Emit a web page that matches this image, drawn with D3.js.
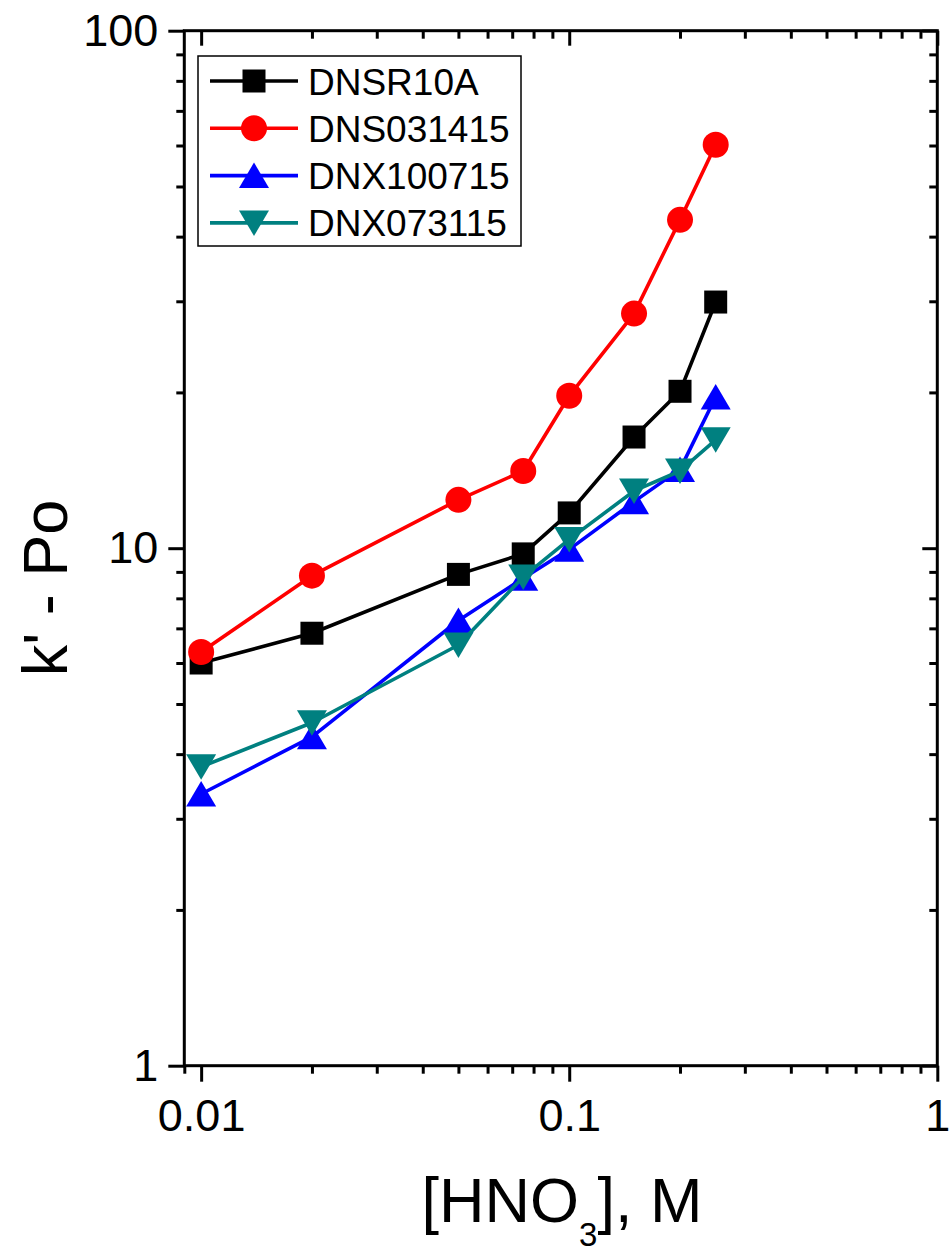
<!DOCTYPE html>
<html>
<head>
<meta charset="utf-8">
<script src="https://cdn.jsdelivr.net/npm/d3@7"></script>
<style>
  body { margin: 0; background: #fff; }
  svg { display: block; }
  text { font-family: Arial, "Liberation Sans", sans-serif; fill: #000; }
</style>
</head>
<body>
<div class="chart"></div>
<script>
// concentrations of HNO3 (M)
var hno3 = [0.01, 0.02, 0.05, 0.075, 0.1, 0.15, 0.2, 0.25];

// k' - Po for each resin
var dnsr10a   = [6.0, 6.85, 8.9, 9.75, 11.7, 16.4, 20.1, 29.9];
var dns031415 = [6.3, 8.85, 12.4, 14.1, 19.7, 28.4, 43.1, 60.2];
var dnx100715 = [3.35, 4.32, 7.25, 8.75, 9.95, 12.3, 14.2, 19.6];
var dnx073115 = [3.78, 4.6, 6.5, 8.8, 10.4, 12.9, 14.1, 16.2];

var seriesNames = ["DNSR10A", "DNS031415", "DNX100715", "DNX073115"];
var seriesValues = [dnsr10a, dns031415, dnx100715, dnx073115];
var seriesColors = ["#000000", "#ff0000", "#0000ff", "#008080"];
var seriesSymbols = ["square", "circle", "up", "down"];

// tick values
var xMajor = [0.01, 0.1, 1];
var xMinor = [0.009, 0.02, 0.03, 0.04, 0.05, 0.06, 0.07, 0.08, 0.09, 0.2, 0.3, 0.4, 0.5, 0.6, 0.7, 0.8, 0.9];
var yMajor = [1, 10, 100];
var yMinor = [2, 3, 4, 5, 6, 7, 8, 9, 20, 30, 40, 50, 60, 70, 80, 90];

var width = 952, height = 1257;
var margin = {left: 184.3, top: 30.7, right: 952 - 937.3, bottom: 1257 - 1065.7};
var w = width - margin.left - margin.right;
var h = height - margin.top - margin.bottom;

var svg = d3.select(".chart").append("svg").attr("width", width).attr("height", height);
var g = svg.append("g").attr("transform", "translate(" + margin.left + "," + margin.top + ")");

var x = d3.scaleLog().domain([0.009, 1]).range([0, w]);
var y = d3.scaleLog().domain([1, 100]).range([h, 0]);

//axes: major and minor ticks drawn separately so lengths differ
function styleAxis(sel) {
  sel.select(".domain").remove();
  sel.selectAll(".tick line").attr("stroke", "#000").attr("stroke-width", 3);
  sel.selectAll(".tick text").style("font-size", "45px").attr("fill", "#000");
}
var fmt = function(d) { return d; };

//bottom
g.append("g").attr("transform", "translate(0," + h + ")")
  .call(d3.axisBottom(x).tickValues(xMajor).tickSize(16).tickPadding(17).tickFormat(fmt)).call(styleAxis);
g.append("g").attr("transform", "translate(0," + h + ")")
  .call(d3.axisBottom(x).tickValues(xMinor).tickSize(8).tickFormat("")).call(styleAxis);
//top (inward)
g.append("g").call(d3.axisTop(x).tickValues(xMajor).tickSize(-15).tickFormat("")).call(styleAxis);
g.append("g").call(d3.axisTop(x).tickValues(xMinor.filter(function(d){ return d > 0.009; })).tickSize(-8).tickFormat("")).call(styleAxis);
//left
g.append("g").call(d3.axisLeft(y).tickValues(yMajor).tickSize(16).tickPadding(10).tickFormat(fmt)).call(styleAxis);
g.append("g").call(d3.axisLeft(y).tickValues(yMinor).tickSize(8).tickFormat("")).call(styleAxis);
//right (inward)
g.append("g").attr("transform", "translate(" + w + ",0)")
  .call(d3.axisRight(y).tickValues(yMajor).tickSize(-15).tickFormat("")).call(styleAxis);
g.append("g").attr("transform", "translate(" + w + ",0)")
  .call(d3.axisRight(y).tickValues(yMinor).tickSize(-8).tickFormat("")).call(styleAxis);

//frame
g.append("rect").attr("width", w).attr("height", h)
  .attr("fill", "none").attr("stroke", "#000").attr("stroke-width", 3);

//symbol paths centred on 0,0
function symbolPath(type) {
  if (type == "square") return "M-11.5,-11.5H11.5V11.5H-11.5Z";
  if (type == "circle") return "M-13,0A13,13 0 1,0 13,0A13,13 0 1,0 -13,0Z";
  if (type == "up") return "M0,-13L15,12.5L-15,12.5Z";
  return "M0,13L15,-12.5L-15,-12.5Z";
}

var line = d3.line()
  .x(function(d) { return x(d[0]); })
  .y(function(d) { return y(d[1]); });

seriesValues.forEach(function(vals, i) {
  var pts = hno3.map(function(c, j) { return [c, vals[j]]; });
  g.append("path")
    .attr("fill", "none")
    .attr("stroke", seriesColors[i])
    .attr("stroke-width", 3.6)
    .attr("stroke-linejoin", "round")
    .attr("d", line(pts));
  g.selectAll(".m" + i).data(pts).enter().append("path")
    .attr("class", "m" + i)
    .attr("transform", function(d) { return "translate(" + x(d[0]) + "," + y(d[1]) + ")"; })
    .attr("d", symbolPath(seriesSymbols[i]))
    .attr("fill", seriesColors[i]);
});

//legend
var legend = svg.append("g").attr("transform", "translate(198,56)");
legend.append("rect").attr("width", 323).attr("height", 190)
  .attr("fill", "#fff").attr("stroke", "#000").attr("stroke-width", 1.5);
seriesNames.forEach(function(name, i) {
  var ly = 25 + i * 47.3;
  legend.append("line").attr("x1", 12).attr("x2", 100).attr("y1", ly).attr("y2", ly)
    .attr("stroke", seriesColors[i]).attr("stroke-width", 3.6);
  legend.append("path").attr("transform", "translate(56," + ly + ")")
    .attr("d", symbolPath(seriesSymbols[i])).attr("fill", seriesColors[i]);
  legend.append("text").attr("x", 110).attr("y", ly + 13.5)
    .style("font-size", "37px").text(name);
});

// text label for the x axis
var xt = svg.append("text")
  .attr("x", 562).attr("y", 1222)
  .style("text-anchor", "middle")
  .style("font-size", "63px");
xt.append("tspan").text("[HNO");
xt.append("tspan").attr("dy", 24).style("font-size", "33px").text("3");
xt.append("tspan").attr("dy", -24).text("], M");

// text label for the y axis
svg.append("text")
  .attr("transform", "translate(67,588) rotate(-90)")
  .style("text-anchor", "middle")
  .style("font-size", "63px")
  .text("k' - Po");
</script>
</body>
</html>
